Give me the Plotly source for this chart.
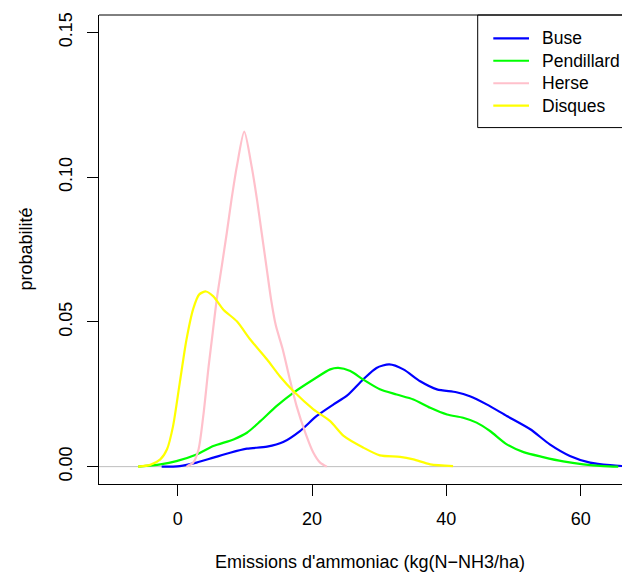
import plotly.graph_objects as go

# density curves (x in kg N-NH3/ha, y = density)
buse_x = [-2.4, 0.3, 2.8, 5.3, 7.8, 10.3, 13.3, 15.7, 18.2, 20.7, 23.2, 25.2, 27.6, 29.6,
          31.5, 33.6, 36.1, 38.6, 41.5, 43.5, 46.0, 49.0, 52.5, 55.4, 58.4, 61.4, 64.4, 67.4, 70.5]
buse_y = [0, 0.0002, 0.0014, 0.0031, 0.0048, 0.0062, 0.0069, 0.0085, 0.0123, 0.0175, 0.0215,
          0.0245, 0.0301, 0.0341, 0.0353, 0.0336, 0.0295, 0.0267, 0.0257, 0.0243, 0.0215,
          0.0175, 0.0129, 0.0077, 0.0037, 0.0014, 0.0005, 0.0001, 0]

pend_x = [-5.9, -2.6, -0.2, 2.8, 5.3, 8.3, 10.3, 12.3, 14.7, 17.2, 20.2, 22.7, 23.9, 25.7,
          27.6, 30.1, 32.6, 35.1, 37.6, 40.1, 42.5, 44.5, 46.5, 49.0, 51.5, 54.4, 57.4, 60.4,
          63.4, 65.6]
pend_y = [0, 0.0008, 0.0019, 0.0042, 0.0071, 0.0094, 0.0117, 0.0157, 0.0209, 0.0255, 0.0301,
          0.0336, 0.0341, 0.0330, 0.0301, 0.0267, 0.0249, 0.0232, 0.0203, 0.0180, 0.0169,
          0.0152, 0.0123, 0.0077, 0.0050, 0.0033, 0.0018, 0.0008, 0.0002, 0]

herse_x = [1.3, 2.3, 3.1, 3.8, 4.6, 5.2, 5.8, 6.55, 7.3, 8.0, 8.8, 9.9, 11.0, 11.8, 12.5,
           13.2, 13.9, 14.6, 15.6, 16.7, 17.7, 19.0, 20.2, 21.2, 22.2]
herse_y = [0, 0.0014, 0.006, 0.0175, 0.0347, 0.0462, 0.0577, 0.0692, 0.0807, 0.0922, 0.1037,
           0.1157, 0.1037, 0.0922, 0.0807, 0.0692, 0.0577, 0.0488, 0.0408, 0.0301, 0.0209,
           0.0117, 0.0048, 0.0014, 0]

disq_x = [-5.9, -4.1, -2.6, -1.6, -0.7, 0.3, 1.3, 2.3, 3.2, 4.2, 5.3, 6.8, 8.8, 10.8,
          13.3, 15.2, 17.2, 20.2, 22.7, 24.7, 27.6, 30.1, 33.1, 35.1, 37.6, 41.0]
disq_y = [0, 0.0006, 0.0025, 0.006, 0.014, 0.029, 0.0439, 0.0545, 0.0595, 0.0605,
          0.0588, 0.0542, 0.0502, 0.0439, 0.037, 0.0312, 0.0261, 0.0198, 0.0157, 0.0106,
          0.0066, 0.0039, 0.0034, 0.0025, 0.0008, 0.0002]

names = ["Buse", "Pendillard", "Herse", "Disques"]
colors = ["#0000FF", "#00FF00", "#FFC0CB", "#FFFF00"]
x_ticks = [0, 20, 40, 60]
y_ticks = [0.00, 0.05, 0.10, 0.15]
y_ticklabels = ["0.00", "0.05", "0.10", "0.15"]

FONT = "Liberation Sans, Arial, sans-serif"

# page has an 8px body margin, so the figure sits 8px in from the corner
W, H = 622, 565
L, T = 91, 7
PW, PH = W - L, 469.5          # plot area in pixels


def px(x):                      # figure pixel -> paper x
    return (x - L) / PW


def py(y):                      # figure pixel -> paper y
    return 1 - (y - T) / PH


fig = go.Figure()
series = [(buse_x, buse_y), (pend_x, pend_y), (herse_x, herse_y), (disq_x, disq_y)]
for (xs, ys), name, col in zip(series, names, colors):
    fig.add_trace(go.Scatter(
        x=xs, y=ys, name=name, mode="lines", showlegend=False,
        line=dict(color=col, width=2.2, shape="spline", smoothing=0.7),
    ))

# gray zero line (abline h=0)
fig.add_shape(type="line", xref="paper", x0=0, x1=1, yref="y", y0=0, y1=0,
              line=dict(color="#BEBEBE", width=1), layer="below")
# top edge of the box (the right edge falls outside the picture)
fig.add_shape(type="line", xref="paper", x0=0, x1=1, yref="paper", y0=1, y1=1,
              line=dict(color="black", width=1))

# legend, top-right, its frame running past the right border
fig.add_shape(type="rect", xref="paper", yref="paper",
              x0=px(469.7), x1=1.05, y0=py(119.7), y1=1,
              line=dict(color="black", width=1), fillcolor="rgba(0,0,0,0)")
for i, (name, col) in enumerate(zip(names, colors)):
    yy = py(30.3 + 22.5 * i)
    fig.add_shape(type="line", xref="paper", yref="paper",
                  x0=px(485.3), x1=px(521), y0=yy, y1=yy,
                  line=dict(color=col, width=2.2))
    fig.add_annotation(text=name, xref="paper", yref="paper", x=px(532), y=yy,
                       xanchor="left", yanchor="middle", showarrow=False,
                       font=dict(size=17.5, color="black", family=FONT))

fig.add_annotation(text="Emissions d'ammoniac (kg(N\u2212NH3/ha)", xref="paper", yref="paper",
                   x=px(361.7), y=py(555), showarrow=False,
                   font=dict(size=18, color="black", family=FONT), xanchor="center", yanchor="middle")
fig.add_annotation(text="probabilit\u00e9", xref="paper", yref="paper",
                   x=px(17), y=0.5, showarrow=False, textangle=-90,
                   font=dict(size=18, color="black", family=FONT), xanchor="center", yanchor="middle")

fig.update_layout(
    width=W, height=H,
    margin=dict(l=L, r=0, t=T, b=H - T - PH),
    plot_bgcolor="white", paper_bgcolor="white",
    font=dict(family=FONT, size=18, color="black"),
    showlegend=False,
    xaxis=dict(range=[-11.73, 67.35], tickvals=x_ticks, ticktext=[str(v) for v in x_ticks],
               showgrid=False, zeroline=False, showline=True, linecolor="black", linewidth=1,
               ticks="outside", ticklen=11, tickcolor="black", tickwidth=1,
               ticklabelstandoff=7),
    yaxis=dict(range=[-0.006, 0.156], tickvals=y_ticks, ticktext=y_ticklabels, tickangle=-90,
               showgrid=False, zeroline=False, showline=True, linecolor="black", linewidth=1,
               ticks="outside", ticklen=11, tickcolor="black", tickwidth=1,
               ticklabelstandoff=8),
)

fig.write_html("out.html")
